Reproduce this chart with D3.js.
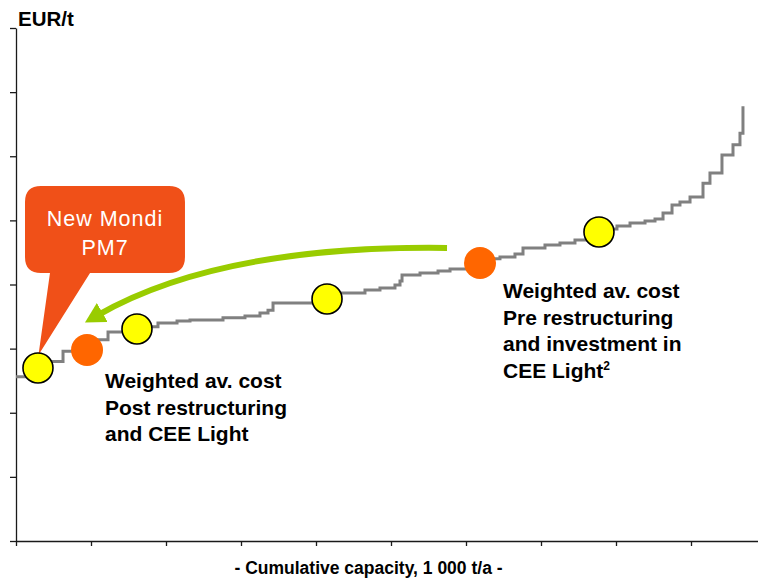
<!DOCTYPE html>
<html>
<head>
<meta charset="utf-8">
<script src="https://cdn.jsdelivr.net/npm/d3@7"></script>
<style>
  html, body { margin: 0; padding: 0; background: #fff; }
  svg { display: block; font-family: Arial, "Liberation Sans", Helvetica, sans-serif; }
</style>
</head>
<body>
<svg id="chart" width="758" height="578"></svg>
<script>
// Cumulative capacity (1 000 t/a) at which each cost step starts
const capacity = [0, 280, 627, 987, 1227, 1600, 1893, 2147, 2320, 2760, 3053, 3253, 3360, 3427, 4147,
  4653, 4853, 5053, 5120, 5147, 5387, 5627, 5787, 6187, 6453, 6653, 6760, 7053, 7253, 7453,
  7613, 7773, 8013, 8187, 8387, 8520, 8627, 8747, 8853, 8987, 9160, 9253, 9413, 9560, 9653, 9693];
// Cash cost level (EUR/t) of each step
const cost = [128, 140, 148, 157, 163, 167, 170, 171.5, 172.3, 174, 175.4, 177.8, 180, 185.6, 193.4,
  195.7, 197.3, 199.6, 202.7, 207.4, 209, 210.5, 212, 220, 221.4, 223.8, 228.5, 230.8, 232.4, 234.7,
  236.3, 243.3, 245.6, 248, 249.5, 251, 255.8, 262, 264.3, 268.2, 279, 287, 301, 309, 318, 339];

// Highlighted mills (yellow) and weighted averages (orange)
const millNames = ["New Mondi PM7", "Mill B", "Mill C", "Mill D"];
const millCapacity = [293, 1613, 4147, 7773];
const millCost = [134.9, 165.3, 188.7, 240.9];
const avgNames = ["Post restructuring and CEE Light", "Pre restructuring and investment in CEE Light"];
const avgCapacity = [947, 6187];
const avgCost = [148.9, 216.8];

const yTicks = [0, 50, 100, 150, 200, 250, 300, 350, 400];
const xTicks = [0, 1000, 2000, 3000, 4000, 5000, 6000, 7000, 8000, 9000];

const yTitle = "EUR/t";
const xTitle = "- Cumulative capacity, 1 000 t/a -";
const calloutLines = ["New Mondi", "PM7"];
const postLines = ["Weighted av. cost", "Post restructuring", "and CEE Light"];
const preLines = ["Weighted av. cost", "Pre restructuring", "and investment in", "CEE Light"];

const svg = d3.select("#chart");
const x = d3.scaleLinear().domain([0, 9900]).range([16, 758.5]);
const y = d3.scaleLinear().domain([0, 400]).range([541, 28]);

// Axes
const yAxis = svg.append("g").attr("transform", `translate(${x(0)},0)`)
  .call(d3.axisLeft(y).tickValues(yTicks).tickSize(6).tickSizeOuter(0).tickFormat(""));
const xAxis = svg.append("g").attr("transform", `translate(0,${y(0)})`)
  .call(d3.axisBottom(x).tickValues(xTicks).tickSize(5).tickSizeOuter(0).tickFormat(""));
[yAxis, xAxis].forEach(g => {
  g.selectAll("path.domain").attr("stroke", "#1a1a1a").attr("stroke-width", 1.3);
  g.selectAll(".tick line").attr("stroke", "#1a1a1a").attr("stroke-width", 1.3);
});
xAxis.select("path.domain").attr("d", `M${x(0)},0.5H758`);

svg.append("text").attr("x", 18).attr("y", 26)
  .attr("font-size", 20.5).attr("font-weight", "bold").attr("fill", "#000").text(yTitle);
svg.append("text").attr("x", 368.5).attr("y", 574).attr("text-anchor", "middle")
  .attr("font-size", 17.5).attr("font-weight", "bold").attr("fill", "#000").text(xTitle);

// Cost curve
const curveData = capacity.map((c, i) => [c, cost[i]]);
svg.append("path")
  .datum(curveData)
  .attr("fill", "none")
  .attr("stroke", "#808080")
  .attr("stroke-width", 3)
  .attr("stroke-linejoin", "miter")
  .attr("d", d3.line().x(d => x(d[0])).y(d => y(d[1])).curve(d3.curveStepAfter));

// Green arrow (from pre to post weighted average)
const defs = svg.append("defs");
defs.append("marker").attr("id", "ah")
  .attr("markerUnits", "userSpaceOnUse")
  .attr("viewBox", "0 0 20 22").attr("markerWidth", 20).attr("markerHeight", 22)
  .attr("refX", 5).attr("refY", 11).attr("orient", "auto")
  .append("path").attr("d", "M0,0 L20,11 L0,22 Z").attr("fill", "#99CC00");
const arrowPts = [[5747, 228.5], [2720, 230.8], [1093, 176.2]];
svg.append("path")
  .attr("d", `M${x(arrowPts[0][0])},${y(arrowPts[0][1])} Q${x(arrowPts[1][0])},${y(arrowPts[1][1])} ${x(arrowPts[2][0])},${y(arrowPts[2][1])}`)
  .attr("fill", "none").attr("stroke", "#99CC00").attr("stroke-width", 6)
  .attr("marker-end", "url(#ah)");

// Callout bubble
const bx0 = x(120), bx1 = x(2253), by0 = y(276.8), by1 = y(209);
const r = 16;
const tailL = x(453), tailR = x(987);
const tipX = x(millCapacity[0]) + 0.5, tipY = y(millCost[0]) - 13;
const bubble = `M${bx0 + r},${by0} H${bx1 - r} Q${bx1},${by0} ${bx1},${by0 + r} V${by1 - r} Q${bx1},${by1} ${bx1 - r},${by1}
  H${tailR} L${tipX},${tipY} L${tailL},${by1} H${bx0 + r} Q${bx0},${by1} ${bx0},${by1 - r} V${by0 + r} Q${bx0},${by0} ${bx0 + r},${by0} Z`;
svg.append("path").attr("d", bubble).attr("fill", "#F05018");
const cx = (bx0 + bx1) / 2;
svg.selectAll("text.callout").data(calloutLines).enter().append("text")
  .attr("class", "callout")
  .attr("x", cx).attr("y", (d, i) => 226 + i * 29)
  .attr("text-anchor", "middle").attr("font-size", 21.5).attr("letter-spacing", "1px")
  .attr("fill", "#fff").text(d => d);

// Markers
svg.selectAll("circle.avg").data(avgCapacity).enter().append("circle")
  .attr("class", "avg")
  .attr("cx", (d) => x(d)).attr("cy", (d, i) => y(avgCost[i])).attr("r", 16)
  .attr("fill", "#FF6600");
svg.selectAll("circle.mill").data(millCapacity).enter().append("circle")
  .attr("class", "mill")
  .attr("cx", (d) => x(d)).attr("cy", (d, i) => y(millCost[i])).attr("r", 15)
  .attr("fill", "#FFFF00").attr("stroke", "#000").attr("stroke-width", 1.6);

// Labels
function block(lines, x0, yBase, sup) {
  const t = svg.append("g");
  lines.forEach((l, i) => {
    const tx = t.append("text").attr("x", x0).attr("y", yBase + i * 26.5)
      .attr("font-size", 21).attr("font-weight", "bold").attr("fill", "#000").text(l);
    if (sup && i === lines.length - 1) {
      tx.append("tspan").attr("font-size", 12).attr("dy", -8).text("2");
    }
  });
}
block(postLines, 105, 388, false);
block(preLines, 503, 298, true);
</script>
</body>
</html>
